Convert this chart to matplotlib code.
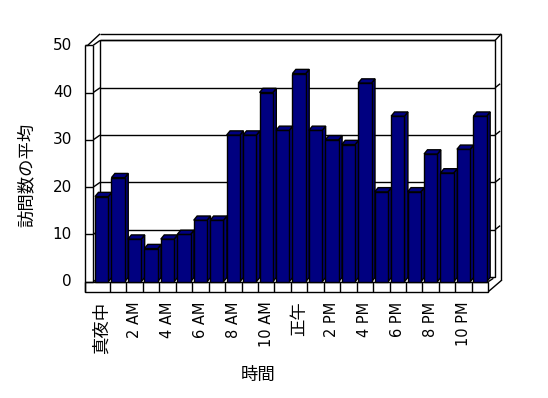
import matplotlib
matplotlib.use("Agg")
import matplotlib.pyplot as plt
from matplotlib.patches import Polygon

plt.rcParams['font.family'] = ['DejaVu Sans', 'Noto Sans CJK JP']

# average visits per hour (0..23)
hours = list(range(24))
visits = [18, 22, 9, 7, 9, 10, 13, 13, 31, 31, 40, 32,
          44, 32, 30, 29, 42, 19, 35, 19, 27, 23, 28, 35]
tick_labels = ["真夜中", "2 AM", "4 AM", "6 AM", "8 AM", "10 AM",
               "正午", "2 PM", "4 PM", "6 PM", "8 PM", "10 PM"]
y_ticks = [0, 10, 20, 30, 40, 50]

BAR = "#000080"
half = 0.405        # half width of bar front face (slot units)
bdx, bdy = 0.21, 0.89   # bar depth offset
wdy = 1.0           # back wall offset in value units

# frame layout (slot units / value units)
x_front = -1.04
x_lwall = -0.51
x_back_l = -0.10
x_back_r = 23.91
x_floor_r = 23.5
x_out_r = 24.33
floor_bot = -2.11
top_out = 52.4
ymax = 50

fig = plt.figure(figsize=(5.48, 3.98), dpi=100)
ax = fig.add_axes([0, 0, 1, 1])
ax.set_xlim(-6.18, 27.13)
ax.set_ylim(-24.59, 59.56)
ax.axis("off")

k = dict(color="black", lw=1, solid_capstyle="butt")

# back wall
ax.add_patch(Polygon([(x_back_l, wdy), (x_back_r, wdy), (x_back_r, ymax + wdy),
                      (x_back_l, ymax + wdy)], closed=True, fc="white", ec="black", lw=1))
# back wall top strip
ax.plot([x_back_l, x_back_r], [ymax + wdy] * 2, **k)
ax.plot([-0.10, x_out_r - 0.04], [top_out] * 2, **k)
ax.plot([x_back_r, x_out_r - 0.04], [ymax + wdy, top_out], **k)
ax.plot([x_out_r - 0.04, x_out_r - 0.04], [top_out, 0.36], **k)
# left wall
ax.plot([x_front, x_front], [floor_bot, ymax], **k)
ax.plot([x_lwall, x_lwall], [0, ymax], **k)
ax.plot([x_front, -0.84], [ymax, ymax], **k)
ax.plot([-0.84, -0.10], [ymax, top_out], **k)

# gridlines
for v in y_ticks:
    ax.plot([x_front, x_lwall], [v, v], **k)
    ax.plot([x_lwall, x_back_l], [v, v + wdy], **k)
    if 0 < v < ymax:
        ax.plot([x_back_l, x_back_r], [v + wdy, v + wdy], **k)
        ax.plot([x_back_r, x_back_r + 0.31], [v + wdy, v + wdy + 0.85], **k)
    ax.text(-1.8, v, str(v), ha="right", va="center", fontsize=11)

# floor
ax.add_patch(Polygon([(x_front, floor_bot), (x_floor_r, floor_bot), (x_floor_r, 0),
                      (x_front, 0)], closed=True, fc="white", ec="black", lw=1))
for h in hours[:-1]:
    ax.plot([h + 0.5, h + 0.5], [floor_bot, 0], **k)
ax.plot([x_floor_r, x_out_r], [floor_bot, 0.36], **k)
ax.plot([x_floor_r, 23.81], [0, 0.72], **k)

# bars
ax.bar(hours, visits, width=2 * half, color=BAR, edgecolor="black", lw=1, zorder=3)
for h, v in zip(hours, visits):
    side = [(h + half, 0), (h + half + bdx, bdy), (h + half + bdx, v + bdy), (h + half, v)]
    top = [(h - half, v), (h + half, v), (h + half + bdx, v + bdy), (h - half + bdx, v + bdy)]
    ax.add_patch(Polygon(side, closed=True, fc=BAR, ec="black", lw=1, zorder=2.5 + h * 0.01))
    ax.add_patch(Polygon(top, closed=True, fc=BAR, ec="black", lw=1, zorder=3))

for h, lab in zip(hours[::2], tick_labels):
    size = 10.5 if lab.isascii() else 12.5
    ax.text(h, -4.2, lab, rotation=90, ha="center", va="top", fontsize=size)

ax.text(-4.56, 22.56, "訪問数の平均", rotation=90, ha="center", va="center", fontsize=12.5)
ax.text(9.5, -19.7, "時間", ha="center", va="center", fontsize=12.5)

fig.savefig("out.png", dpi=100)
